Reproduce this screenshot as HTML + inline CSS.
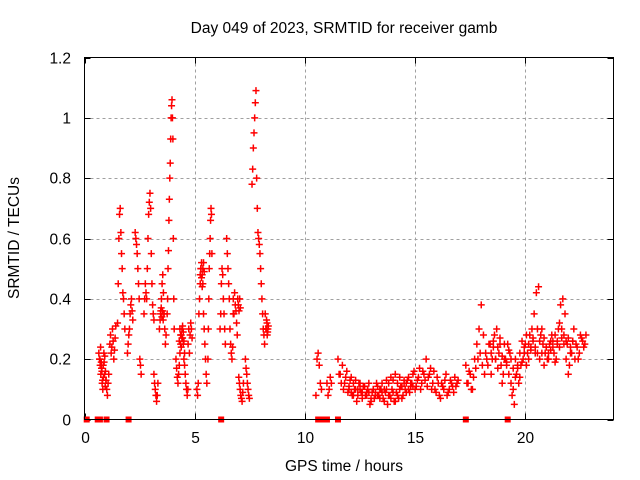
<!DOCTYPE html>
<html><head><meta charset="utf-8">
<style>
html,body{margin:0;padding:0;background:#fff;}
svg{display:block;font-family:"Liberation Sans",sans-serif;}
</style></head>
<body>
<svg id="chart" width="640" height="480" viewBox="0 0 640 480">
<text x="344" y="33" text-anchor="middle" font-size="15.5" fill="#000">Day 049 of 2023, SRMTID for receiver gamb</text>
<text x="344" y="471" text-anchor="middle" font-size="15.5" fill="#000">GPS time / hours</text>
<text transform="translate(19,238) rotate(-90)" text-anchor="middle" font-size="15.5" fill="#000">SRMTID / TECUs</text>
<g id="grid"></g><g id="ticks"></g><g id="marks"></g>
<rect x="84.5" y="57.5" width="529" height="362" fill="none" stroke="#000" stroke-width="1"/>
</svg>
<script>
const xTicks=[0,5,10,15,20];
const yTicks=[0,0.2,0.4,0.6,0.8,1,1.2];
const yTickLabels=["0","0.2","0.4","0.6","0.8","1","1.2"];
const segStart=[0.65,1.15,1.5,1.95,2.3,2.7,3.15,3.4,3.75,4.15,4.7,5.1,5.6,6.15,6.45,6.75,7.0,7.3,7.6,8.2,10.5,11.0,11.5,11.55,17.3,17.35,0.7,4.3,5.25,3.45,6.95,8.25,18.45,12.0];
const segStep=[0.03,0.03,0.03,0.03,0.03,0.03,0.03,0.03,0.02,0.03,0.03,0.03,0.02,0.03,0.03,0.03,0.03,0.03,0.03,0.03,0.05,0.05,0.1,0.1,0.1,0.1,0.03,0.03,0.03,0.03,0.03,0.03,0.1,0.1];
const segValues=[
[0.22,0.2,0.18,0.15,0.17,0.12,0.1,0.14,0.19,0.21,0.16,0.13,0.1,0.08,0.12,0.15],
[0.25,0.28,0.22,0.24,0.3,0.26,0.2,0.23,0.27,0.31],
[0.32,0.45,0.6,0.68,0.7,0.62,0.55,0.5,0.42,0.4,0.35,0.3],
[0.22,0.25,0.28,0.3,0.35,0.38,0.4,0.36,0.33],
[0.62,0.6,0.58,0.55,0.5,0.45,0.4,0.2,0.18,0.15],
[0.35,0.4,0.45,0.42,0.4,0.5,0.6,0.68,0.72,0.75,0.7,0.55,0.45,0.38,0.35,0.33],
[0.15,0.12,0.1,0.08,0.06,0.08,0.12],
[0.3,0.33,0.36,0.4,0.45,0.48,0.42,0.35,0.3,0.25,0.28],
[0.35,0.4,0.5,0.56,0.66,0.73,0.8,0.85,0.93,1.0,1.04,1.06,1.0,0.93,0.6,0.4,0.3],
[0.2,0.17,0.14,0.12,0.15,0.18,0.22,0.25,0.28,0.3,0.27,0.25,0.2,0.18,0.15,0.12,0.1,0.08,0.1],
[0.25,0.3,0.22,0.28,0.32,0.3,0.27],
[0.1,0.08,0.12,0.35,0.4,0.45,0.5,0.52,0.48,0.45,0.35,0.3,0.25,0.2,0.15,0.12],
[0.2,0.3,0.4,0.5,0.55,0.6,0.66,0.7,0.68,0.55],
[0.3,0.35,0.45,0.5,0.48,0.4,0.35,0.3,0.25],
[0.6,0.55,0.5,0.45,0.4,0.3,0.25,0.22,0.2,0.24,0.35],
[0.4,0.35,0.42,0.38,0.36,0.32,0.28],
[0.14,0.12,0.1,0.08,0.07,0.06,0.09,0.12],
[0.2,0.17,0.15,0.12,0.1,0.08,0.07],
[0.78,0.83,0.9,0.95,1.0,1.05,1.09,0.8,0.7,0.62,0.6,0.58,0.55,0.5,0.45,0.4,0.35,0.3,0.28,0.25],
[0.35,0.3,0.33,0.28,0.3],
[0.08,0.2,0.22,0.18,0.12,0.1],
[0.12,0.08,0.1,0.14,0.12],
[0.2,0.15,0.18,0.12,0.16,0.1,0.14,0.08,0.13,0.1,0.12,0.07,0.11,0.09,0.12,0.06,0.1,0.08,0.11,0.07,0.09,0.06,0.1,0.08,0.07,0.09,0.06,0.08,0.1,0.07,0.12,0.09,0.14,0.11,0.15,0.1,0.13,0.17,0.12,0.15,0.2,0.14,0.17,0.12,0.1,0.14,0.08,0.12,0.1,0.15,0.09,0.13,0.11,0.14,0.12],
[0.15,0.12,0.1,0.14,0.09,0.13,0.08,0.1,0.06,0.12,0.09,0.11,0.08,0.1,0.05,0.09,0.07,0.12,0.08,0.1,0.07,0.09,0.05,0.08,0.1,0.06,0.09,0.07,0.11,0.08,0.1,0.13,0.09,0.12,0.16,0.11,0.14,0.1,0.16,0.13,0.11,0.15,0.1,0.16,0.09,0.12,0.07,0.11,0.13,0.08,0.1,0.12,0.09,0.11,0.13],
[0.18,0.12,0.15,0.1,0.2,0.25,0.3,0.38,0.28,0.22,0.18,0.25,0.2,0.28,0.3,0.22,0.18,0.15,0.2,0.25,0.22,0.08,0.05,0.15,0.12,0.18,0.2,0.25,0.22,0.28,0.3,0.35,0.42,0.44,0.28,0.25,0.22,0.2,0.25,0.28,0.22,0.2,0.3,0.38,0.4,0.35,0.25,0.18,0.22,0.3,0.25,0.2,0.28,0.26,0.25],
[0.12,0.16,0.1,0.14,0.17,0.2,0.22,0.18,0.15,0.2,0.25,0.15,0.24,0.2,0.17,0.25,0.12,0.2,0.18,0.15,0.12,0.1,0.14,0.17,0.14,0.19,0.22,0.18,0.2,0.24,0.26,0.22,0.3,0.2,0.22,0.18,0.24,0.2,0.23,0.26,0.19,0.25,0.32,0.3,0.28,0.2,0.15,0.22,0.26,0.2,0.24,0.22,0.27,0.24,0.28],
[0.2,0.24,0.19,0.16,0.13,0.18,0.22,0.15,0.11,0.13],
[0.26,0.3,0.28,0.24,0.27,0.31,0.29,0.26,0.22],
[0.48,0.5,0.47,0.44,0.5,0.52,0.49],
[0.35,0.37,0.34,0.36,0.33,0.35],
[0.4,0.38,0.36,0.4,0.37],
[0.3,0.32,0.29,0.31],
[0.22,0.26,0.2,0.24,0.27,0.21,0.25,0.19,0.23,0.2,0.17,0.2,0.18,0.22,0.26,0.24,0.28,0.25,0.23,0.27,0.24,0.22,0.26,0.3,0.27,0.24,0.22,0.26,0.24,0.28,0.26,0.24,0.27,0.25,0.26,0.27,0.24,0.26],
[0.11,0.09,0.12,0.1,0.08,0.1,0.09,0.11,0.08,0.09,0.07,0.1,0.09,0.08,0.1,0.12,0.1,0.13,0.12,0.14,0.13,0.15,0.12,0.14,0.11,0.13,0.12,0.1,0.12,0.11]
];
const gapTimes=[0.1,0.6,0.7,1.0,2.0,6.2,10.6,10.8,11.0,11.5,17.3,19.2];

const NS="http://www.w3.org/2000/svg";
const X0=84.5,X1=613.5,Y0=419.5,Y1=57.5;
function xs(t){return X0+t/24*(X1-X0);}
function ys(v){return Y0-v/1.2*(Y0-Y1);}
function mk(tag,attrs,parent){const e=document.createElementNS(NS,tag);for(const k in attrs)e.setAttribute(k,attrs[k]);parent.appendChild(e);return e;}
const grid=document.getElementById('grid'),ticks=document.getElementById('ticks'),marks=document.getElementById('marks');

xTicks.forEach((t,i)=>{
  const x=Math.round(xs(t))+0.5;
  if(t>0){const g=mk('line',{x1:x,x2:x,y1:Y1,y2:Y0,stroke:'#a0a0a0','stroke-dasharray':'3,3'},grid);
  
  }
  const a=mk('line',{x1:x,x2:x,y1:Y0,y2:Y0-6,stroke:'#000'},ticks);
  
  
  const b=mk('line',{x1:x,x2:x,y1:Y1,y2:Y1+6,stroke:'#000'},ticks);
  
  
  const l=mk('text',{x:x,y:443,'text-anchor':'middle','font-size':'15.5',fill:'#000'},ticks);
  l.textContent=String(t);
  
  
});
yTicks.forEach((v,i)=>{
  const y=Math.round(ys(v))+0.5;
  if(v>0&&v<1.2){const g=mk('line',{x1:X0,x2:X1,y1:y,y2:y,stroke:'#a0a0a0','stroke-dasharray':'3,3'},grid);
  
  }
  const a=mk('line',{x1:X0,x2:X0+6,y1:y,y2:y,stroke:'#000'},ticks);
  
  
  const b=mk('line',{x1:X1,x2:X1-6,y1:y,y2:y,stroke:'#000'},ticks);
  
  
  const l=mk('text',{x:71,y:y+5,'text-anchor':'end','font-size':'15.5',fill:'#000'},ticks);
  l.textContent=yTickLabels[i];
  
  
});
segValues.forEach((vals,s)=>{
  vals.forEach((v,i)=>{
    const t=segStart[s]+i*segStep[s];
    const x=xs(t),y=ys(v);
    const p=mk('path',{d:`M${x-3.5},${y}H${x+3.5}M${x},${y-3.5}V${y+3.5}`,stroke:'#ff0000','stroke-width':'1.5',fill:'none'},marks);
    
    
  });
});
gapTimes.forEach(t=>{
  const r=mk('rect',{x:xs(t)-3,y:Y0-3,width:6,height:6,fill:'#ff0000'},marks);
  
  
});
</script>
</body></html>
